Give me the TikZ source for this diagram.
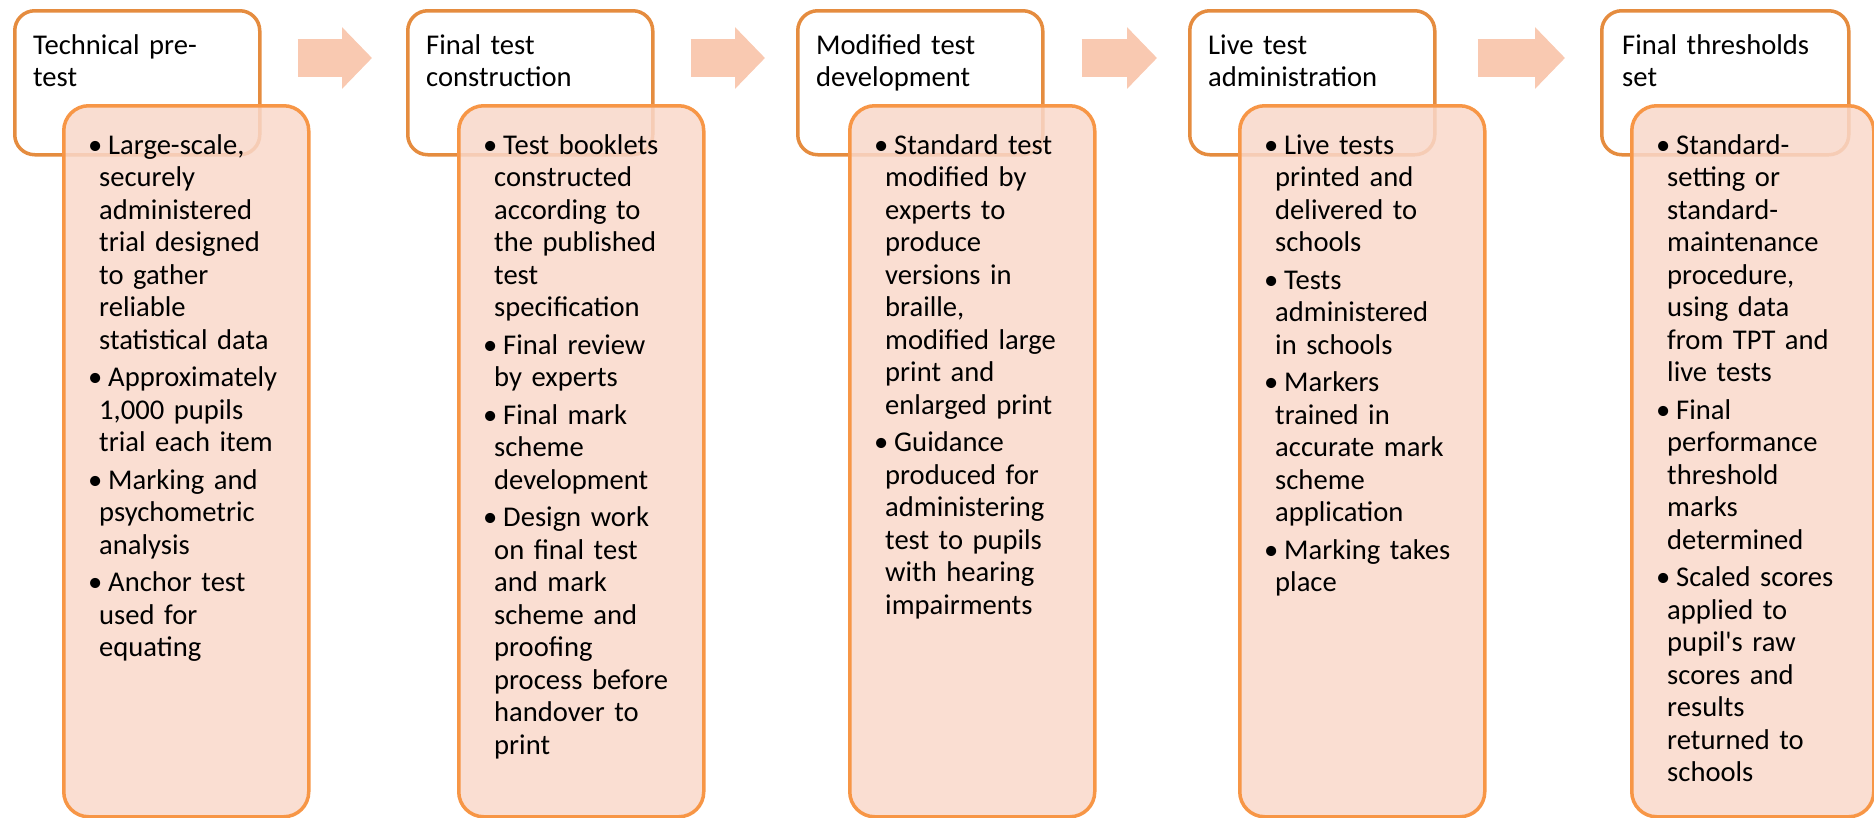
\documentclass[tikz,border=0pt]{standalone}
\usepackage{fontspec}
\setmainfont{Carlito}
\usetikzlibrary{positioning,calc,arrows.meta}

\definecolor{hdrline}{HTML}{E58C3F}
\definecolor{boxline}{HTML}{F79646}
\definecolor{boxfill}{RGB}{249,216,202}
\definecolor{arrowfill}{HTML}{F9C9B1}

% one bullet point, lines broken by hand, hanging indent kept by leftskip
\newcommand{\bitem}[1]{\leftskip=11pt\noindent\hspace*{-11pt}\makebox[20pt][l]{\textbullet}#1\par\vskip5pt}

\tikzset{
  stage/.style={draw=hdrline,line width=3.5pt,rounded corners=20pt,fill=white,
    minimum width=245pt,minimum height=144pt,anchor=north west,inner sep=0pt},
  detail/.style={draw=boxline,line width=3.5pt,rounded corners=25pt,fill=boxfill,
    fill opacity=0.85,minimum width=245pt,minimum height=711pt,anchor=north west,inner sep=0pt},
  words/.style={anchor=base west,inner sep=0pt,text width=225pt,align=left,
    font=\fontsize{28.6pt}{32.5pt}\selectfont},
  flow/.style={draw=arrowfill,line width=38pt}
}

\begin{document}
\begin{tikzpicture}[x=1pt,y=-1pt,>={Triangle[length=30pt,width=60pt]}]
\useasboundingbox (0,0) rectangle (1874,817);

% stage headers
\node (h1) [stage] at (13,9) {};
\node (h2) [stage] at (406,9) {};
\node (h3) [stage] at (796,9) {};
\node (h4) [stage] at (1188,9) {};
\node (h5) [stage,minimum width=247pt] at (1600,9) {};

\node (t1) [words] at ($(h1.north west)+(20,45)$) {Technical pre-\\test};
\node (t2) [words] at ($(h2.north west)+(20,45)$) {Final test\\construction};
\node (t3) [words] at ($(h3.north west)+(20,45)$) {Modified test\\development};
\node (t4) [words] at ($(h4.north west)+(20,45)$) {Live test\\administration};
\node (t5) [words] at ($(h5.north west)+(22,45)$) {Final thresholds\\set};

% detail boxes
\node (b1) [detail] at ($(h1.north west)+(49,95)$) {};
\node (b2) [detail] at ($(h2.north west)+(51,95)$) {};
\node (b3) [detail] at ($(h3.north west)+(52,95)$) {};
\node (b4) [detail] at ($(h4.north west)+(50,95)$) {};
\node (b5) [detail,minimum width=242pt] at ($(h5.north west)+(30,95)$) {};

\node (d1) [words] at ($(b1.north west)+(26,50)$) {%
\bitem{Large-scale,\\securely\\administered\\trial designed\\to gather\\reliable\\statistical data}
\bitem{Approximately\\1,000 pupils\\trial each item}
\bitem{Marking and\\psychometric\\analysis}
\bitem{Anchor test\\used for\\equating}};
\node (d2) [words] at ($(b2.north west)+(26,50)$) {%
\bitem{Test booklets\\constructed\\according to\\the published\\test\\specification}
\bitem{Final review\\by experts}
\bitem{Final mark\\scheme\\development}
\bitem{Design work\\on final test\\and mark\\scheme and\\proofing\\process before\\handover to\\print}};
\node (d3) [words] at ($(b3.north west)+(26,50)$) {%
\bitem{Standard test\\modified by\\experts to\\produce\\versions in\\braille,\\modified large\\print and\\enlarged print}
\bitem{Guidance\\produced for\\administering\\test to pupils\\with hearing\\impairments}};
\node (d4) [words] at ($(b4.north west)+(26,50)$) {%
\bitem{Live tests\\printed and\\delivered to\\schools}
\bitem{Tests\\administered\\in schools}
\bitem{Markers\\trained in\\accurate mark\\scheme\\application}
\bitem{Marking takes\\place}};
\node (d5) [words] at ($(b5.north west)+(26,50)$) {%
\bitem{Standard-\\setting or\\standard-\\maintenance\\procedure,\\using data\\from TPT and\\live tests}
\bitem{Final\\performance\\threshold\\marks\\determined}
\bitem{Scaled scores\\applied to\\pupil\textquotesingle s raw\\scores and\\results\\returned to\\schools}};

% block arrows between stages
\draw[flow,->] ($(h1.north east)+(36,49)$) -- ($(h2.north west)+(-34,49)$);
\draw[flow,->] ($(h2.north east)+(36,49)$) -- ($(h3.north west)+(-31,49)$);
\draw[flow,->] ($(h3.north east)+(37,49)$) -- ($(h4.north west)+(-31,49)$);
\draw[flow,->] ($(h4.north east)+(41,49)$) -- ($(h5.north west)+(-35,49)$);
\end{tikzpicture}
\end{document}
